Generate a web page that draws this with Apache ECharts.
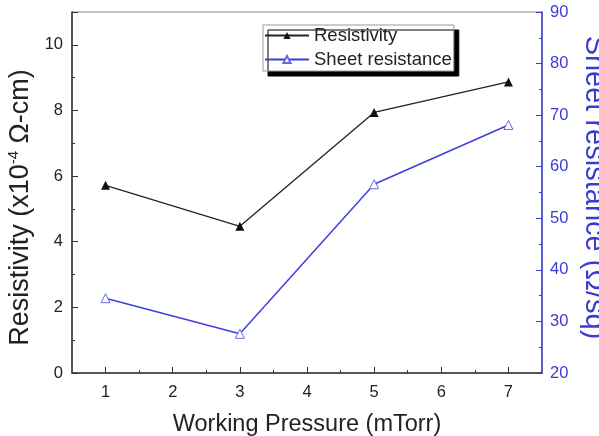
<!DOCTYPE html>
<html><head><meta charset="utf-8">
<script src="https://cdn.jsdelivr.net/npm/echarts@6/dist/echarts.min.js"></script>
<style>html,body{margin:0;padding:0;background:#fff}#c{width:599px;height:436px}</style>
</head><body><div id="c"></div>
<script>
const pressure = [1, 3, 5, 7];
const resistivity = [5.72, 4.47, 7.94, 8.87];
const sheetResistance = [34.5, 27.6, 56.6, 68.1];
const seriesNames = ['Resistivity', 'Sheet resistance'];
const xMajorTicks = [1, 2, 3, 4, 5, 6, 7];
const xMinorTicks = [1.5, 2.5, 3.5, 4.5, 5.5, 6.5];

const chart = echarts.init(document.getElementById('c'));
const font = 'Liberation Sans, Arial, sans-serif';
const blue = '#3b3bd4';
const lineBlue = '#3f3fe0';
const dark = '#333';
chart.setOption({
  animation: false,
  backgroundColor: '#fff',
  grid: {left: 72, right: 57, top: 12, bottom: 63, show: true, borderColor: '#888', borderWidth: 1,
    containLabel: false, outerBoundsMode: 'none'},
  legend: {
    left: 263, top: 25,
    orient: 'vertical',
    backgroundColor: '#fff', borderColor: '#999', borderWidth: 1,
    shadowColor: '#000', shadowOffsetX: 5, shadowOffsetY: 5, shadowBlur: 0,
    padding: [1, 2, 2, 1], itemGap: 5, itemWidth: 44, itemHeight: 9,
    textStyle: {fontFamily: font, fontSize: 18.5, color: '#222'},
    data: seriesNames
  },
  xAxis: [{
    type: 'value', min: 0.5, max: 7.5, interval: 0.5,
    name: 'Working Pressure (mTorr)', nameLocation: 'middle', nameGap: 40,
    nameTextStyle: {fontFamily: font, fontSize: 23.5, color: '#222'},
    axisLine: {lineStyle: {color: dark, width: 1.5}},
    axisTick: {inside: true, length: 6, lineStyle: {color: dark}, customValues: xMajorTicks},
    splitLine: {show: false},
    axisLabel: {fontFamily: font, fontSize: 16.5, color: '#222', margin: 11, customValues: xMajorTicks}
  }, {
    type: 'value', min: 0.5, max: 7.5, interval: 0.5, position: 'bottom',
    axisLine: {show: false},
    axisTick: {inside: true, length: 3, lineStyle: {color: dark}, customValues: xMinorTicks},
    axisLabel: {show: false},
    splitLine: {show: false}
  }],
  yAxis: [{
    type: 'value', min: 0, max: 11, interval: 2, position: 'left',
    name: '{a|Resistivity (x10}{s|-4}{a| Ω-cm)}', nameLocation: 'middle', nameGap: 38, nameRotate: 90,
    nameTextStyle: {padding: [0, 30, 0, 0], rich: {
      a: {fontFamily: font, fontSize: 27, color: '#222'},
      s: {fontFamily: font, fontSize: 15, color: '#222', verticalAlign: 'top', padding: [0, 0, 12, 0]}
    }},
    axisLine: {show: true, lineStyle: {color: dark, width: 1.5}},
    axisTick: {inside: true, length: 6, lineStyle: {color: dark}},
    minorTick: {show: true, splitNumber: 2, length: 3, lineStyle: {color: dark}},
    splitLine: {show: false},
    axisLabel: {fontFamily: font, fontSize: 16.5, color: '#222', margin: 9,
      formatter: v => (v % 2 === 0 ? String(v) : '')}
  }, {
    type: 'value', min: 20, max: 90, interval: 10, position: 'right',
    name: 'Sheet resistance (Ω/sq)', nameLocation: 'middle', nameGap: 37, nameRotate: -90,
    nameTextStyle: {fontFamily: font, fontSize: 29, color: blue, padding: [0, 10, 0, 0]},
    axisLine: {show: true, lineStyle: {color: blue, width: 1.5}},
    axisTick: {inside: true, length: 6, lineStyle: {color: blue}},
    minorTick: {show: true, splitNumber: 2, length: 3, lineStyle: {color: blue}},
    splitLine: {show: false},
    axisLabel: {fontFamily: font, fontSize: 16.5, color: blue, margin: 8}
  }],
  series: [{
    name: seriesNames[0], type: 'line', yAxisIndex: 0,
    data: pressure.map((p, i) => [p, resistivity[i]]),
    symbol: 'triangle', symbolSize: 9,
    lineStyle: {color: '#222', width: 1.3},
    itemStyle: {color: '#111'}
  }, {
    name: seriesNames[1], type: 'line', yAxisIndex: 1,
    data: pressure.map((p, i) => [p, sheetResistance[i]]),
    symbol: 'triangle', symbolSize: 9,
    lineStyle: {color: lineBlue, width: 1.5},
    itemStyle: {color: '#fff', borderColor: '#6a6ae0', borderWidth: 1}
  }]
});
</script></body></html>
